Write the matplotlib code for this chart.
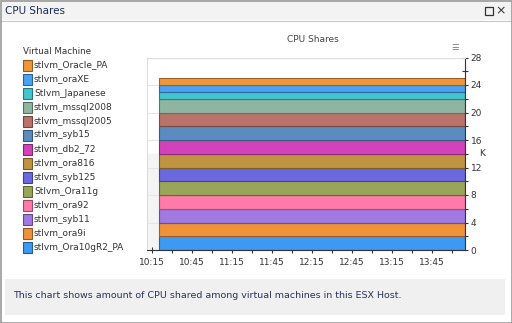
import datetime as dt
import matplotlib
matplotlib.use("Agg")
import matplotlib.pyplot as plt
import matplotlib.dates as mdates
from matplotlib.patches import Rectangle
from matplotlib.lines import Line2D
from matplotlib.colors import to_rgb

# ── data ─────────────────────────────────────────────────────────────────
VMS = [
    "stlvm_Oracle_PA", "stlvm_oraXE", "Stlvm_Japanese", "stlvm_mssql2008",
    "stlvm_mssql2005", "stlvm_syb15", "stlvm_db2_72", "stlvm_ora816",
    "stlvm_syb125", "Stlvm_Ora11g", "stlvm_ora92", "stlvm_syb11",
    "stlvm_ora9i", "stlvm_Ora10gR2_PA",
]
COLORS = [
    "#f0963a", "#4aa2f2", "#44c4cc", "#8db59f",
    "#b9736b", "#5b8cc0", "#d242bb", "#bf9340",
    "#6a69e0", "#99a559", "#ff7aa8", "#a07ae0",
    "#f0923a", "#3c9af2",
]
# CPU shares per VM (thousands), constant over the window
SHARES_K = [1, 1, 1, 2, 2, 2, 2, 2, 2, 2, 2, 2, 2, 2]
TIMES = ["10:20", "14:10"]
X_START = "10:11"
X_TICKS = ["10:15", "10:45", "11:15", "11:45", "12:15", "12:45", "13:15", "13:45"]

W, H = 512, 323


def t(s):
    return dt.datetime.strptime("2024-01-01 " + s, "%Y-%m-%d %H:%M")


def fx(px):
    return px / W


def fy(py):
    return 1 - py / H


def darker(c, f=0.72):
    r, g, b = to_rgb(c)
    return (r * f, g * f, b * f)


fig = plt.figure(figsize=(W / 100, H / 100), dpi=100)
fig.patch.set_facecolor("white")

# ── window chrome ────────────────────────────────────────────────────────
fig.add_artist(Rectangle((fx(0.5), fy(20)), fx(511), 20 / H, transform=fig.transFigure,
                         facecolor="#f3f3f3", edgecolor="none", zorder=0))
fig.add_artist(Line2D([fx(0), fx(512)], [fy(20.5), fy(20.5)], color="#c8c8c8", lw=0.8))
fig.add_artist(Rectangle((fx(0.5), fy(322.5)), fx(511), 322 / H, transform=fig.transFigure,
                         facecolor="none", edgecolor="#9a9a9a", lw=1.2, zorder=10))
fig.text(fx(5), fy(11), "CPU Shares", fontsize=7.5, color="#1e2a55", va="center", ha="left")
fig.add_artist(Rectangle((fx(485), fy(15)), 8 / W, 8 / H, transform=fig.transFigure,
                         facecolor="none", edgecolor="#333333", lw=0.9))
fig.text(fx(501), fy(11), "×", fontsize=9, color="#333333", va="center", ha="center")

# footer
fig.add_artist(Rectangle((fx(5), fy(315)), 500 / W, 36 / H, transform=fig.transFigure,
                         facecolor="#f0f0f0", edgecolor="none", zorder=0))
fig.text(fx(13), fy(295), "This chart shows amount of CPU shared among virtual machines in this ESX Host.",
         fontsize=6.8, color="#2a3360", va="center", ha="left")

# ── legend ───────────────────────────────────────────────────────────────
fig.text(fx(23), fy(51), "Virtual Machine", fontsize=6.3, color="#333333", va="center")
for i, (name, col) in enumerate(zip(VMS, COLORS)):
    yc = 65 + i * 14
    fig.add_artist(Rectangle((fx(23), fy(yc + 5.5)), 8.5 / W, 11 / H, transform=fig.transFigure,
                             facecolor=col, edgecolor=darker(col, 0.6), lw=0.8))
    fig.text(fx(34), fy(yc), name, fontsize=6.5, color="#333333", va="center")

# ── plot ─────────────────────────────────────────────────────────────────
ax = fig.add_axes([fx(147), fy(250), (465 - 147) / W, (250 - 57.5) / H])
ax.set_facecolor("white")
ax.axhspan(0, 14, color="#f4f4f4", zorder=0)

xs = [t(s) for s in TIMES]
layers = list(zip(VMS, COLORS, SHARES_K))[::-1]   # bottom of stack first
ys = [[v] * len(xs) for _, _, v in layers]
polys = ax.stackplot(xs, ys, colors=[c for _, c, _ in layers], zorder=2)
for p, (_, c, _) in zip(polys, layers):
    p.set_edgecolor(darker(c, 0.65))
    p.set_linewidth(0.8)

ax.set_xlim(t(X_START), xs[-1])
ax.set_ylim(0, 28)

ax.xaxis.set_major_locator(mdates.MinuteLocator(byminute=[15, 45]))
ax.xaxis.set_minor_locator(mdates.MinuteLocator(byminute=[0, 30]))
ax.xaxis.set_major_formatter(mdates.DateFormatter("%H:%M"))

ax.yaxis.tick_right()
ax.set_yticks(range(0, 29, 4))
ax.set_yticks(range(2, 29, 4), minor=True)
ax.grid(axis="y", which="major", color="#e6e6e6", lw=0.8, zorder=1)
ax.set_axisbelow(True)

ax.tick_params(axis="both", which="both", direction="inout", length=5, width=0.8,
               color="#333333", labelsize=6.5, labelcolor="#333333", pad=1.5)
ax.tick_params(axis="x", pad=3)

for s in ["left", "top"]:
    ax.spines[s].set_color("#dddddd")
    ax.spines[s].set_linewidth(0.8)
for s in ["right", "bottom"]:
    ax.spines[s].set_color("#333333")
    ax.spines[s].set_linewidth(0.8)

ax.text(1.055, 0.5, "K", transform=ax.transAxes, fontsize=6.5, color="#333333",
        ha="center", va="center")
fig.text(fx(313), fy(39), "CPU Shares", fontsize=6.5, color="#444444", ha="center", va="center")
fig.text(fx(455), fy(47), "☰", fontsize=6, color="#777777", ha="center", va="center")

fig.savefig("out.png", dpi=100, facecolor=fig.get_facecolor())
